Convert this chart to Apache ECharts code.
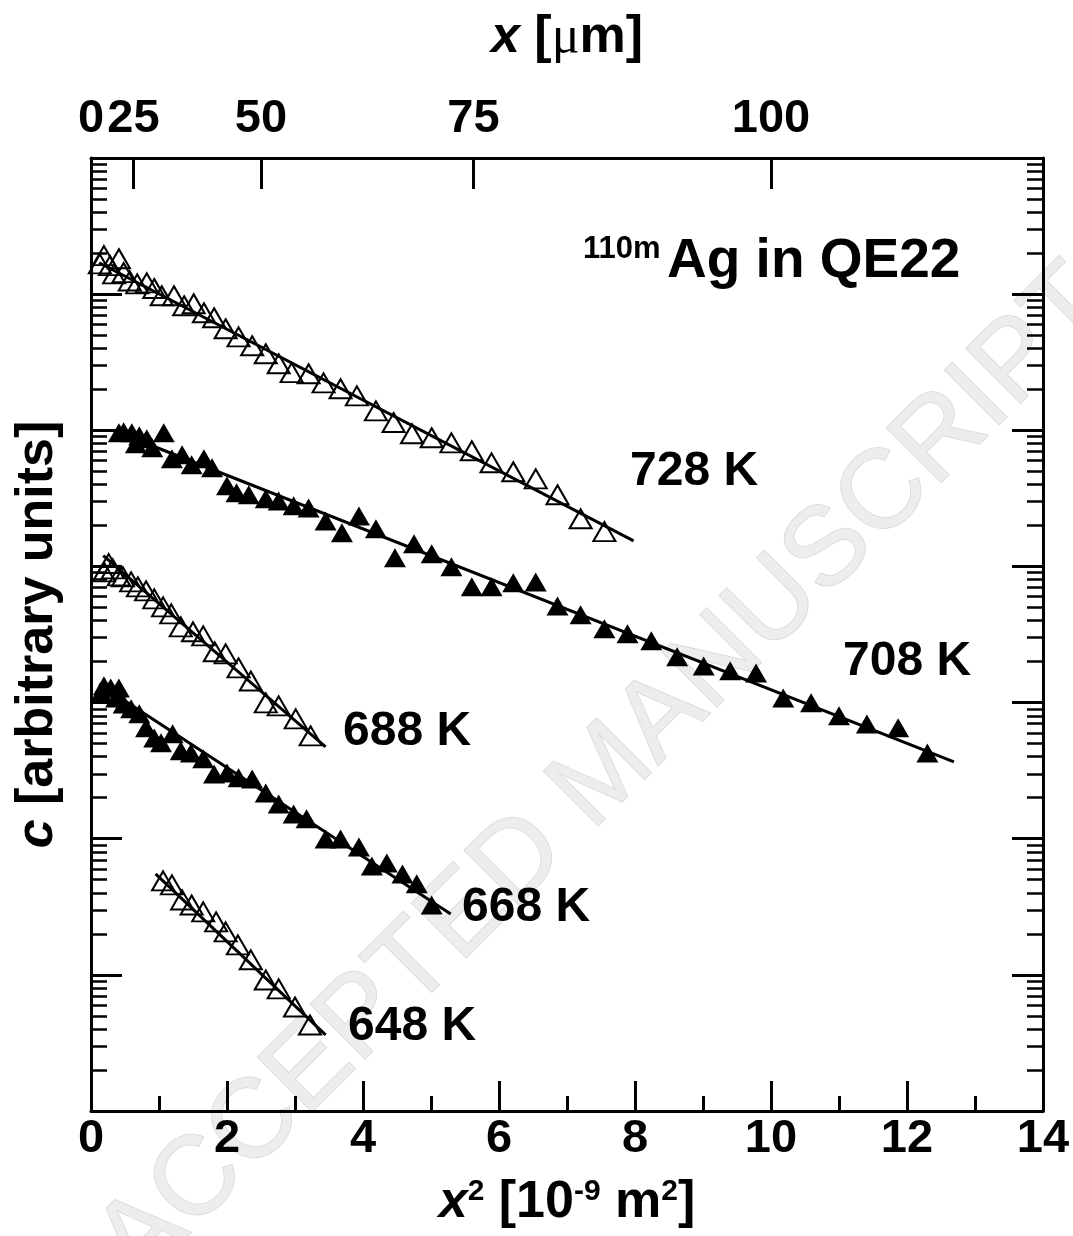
<!DOCTYPE html>
<html>
<head>
<meta charset="utf-8">
<title>110mAg in QE22</title>
<script src="https://cdn.jsdelivr.net/npm/echarts@6/dist/echarts.min.js"></script>
<style>
html, body { margin: 0; padding: 0; background: #fff; }
#main { width: 1073px; height: 1236px; }
</style>
</head>
<body>
<div id="main"></div>
<script>
// penetration profiles, x^2 in 1e-9 m^2, c in arbitrary units (log axis)
var x728 = [0.13, 0.19, 0.28, 0.34, 0.41, 0.48, 0.57, 0.68, 0.82, 0.93, 1.04, 1.22, 1.37, 1.51, 1.66, 1.81, 1.98, 2.17, 2.37, 2.57, 2.76, 2.95, 3.20, 3.42, 3.67, 3.91, 4.19, 4.45, 4.72, 5.01, 5.30, 5.60, 5.89, 6.21, 6.54, 6.86, 7.20, 7.55];
var c728 = [1.67e6, 1.92e6, 1.62e6, 1.41e6, 1.82e6, 1.44e6, 1.25e6, 1.19e6, 1.21e6, 1.10e6, 9.73e5, 9.73e5, 8.22e5, 8.50e5, 7.30e5, 6.71e5, 5.57e5, 4.86e5, 4.18e5, 3.65e5, 3.08e5, 2.65e5, 2.60e5, 2.23e5, 2.02e5, 1.79e5, 1.39e5, 1.14e5, 9.43e4, 8.81e4, 8.09e4, 7.07e4, 5.77e4, 4.96e4, 4.40e4, 3.36e4, 2.24e4, 1.80e4];

var x708 = [0.41, 0.48, 0.60, 0.66, 0.71, 0.82, 0.90, 1.07, 1.19, 1.34, 1.48, 1.66, 1.78, 2.00, 2.14, 2.32, 2.57, 2.76, 2.98, 3.20, 3.45, 3.69, 3.94, 4.19, 4.47, 4.75, 5.01, 5.30, 5.60, 5.89, 6.21, 6.54, 6.86, 7.20, 7.55, 7.89, 8.24, 8.62, 9.01, 9.40, 9.78, 10.18, 10.59, 11.00, 11.41, 11.87, 12.30];
var c708 = [9.59e4, 9.75e4, 9.59e4, 7.96e4, 9.11e4, 8.66e4, 7.44e4, 9.59e4, 6.18e4, 6.61e4, 5.58e4, 6.18e4, 5.30e4, 3.91e4, 3.47e4, 3.36e4, 3.14e4, 3.03e4, 2.79e4, 2.69e4, 2.16e4, 1.77e4, 2.35e4, 1.89e4, 1.16e4, 1.47e4, 1.24e4, 9.93e3, 7.08e3, 7.08e3, 7.58e3, 7.70e3, 5.13e3, 4.41e3, 3.48e3, 3.20e3, 2.84e3, 2.17e3, 1.86e3, 1.71e3, 1.65e3, 1.08e3, 995, 799, 697, 652, 427];

var x688 = [0.19, 0.26, 0.32, 0.41, 0.47, 0.59, 0.69, 0.81, 0.93, 1.06, 1.18, 1.32, 1.50, 1.65, 1.82, 1.98, 2.17, 2.35, 2.57, 2.76, 3.01, 3.23];
var c688 = [9.13e3, 1.05e4, 9.60e3, 8.53e3, 8.39e3, 7.70e3, 7.08e3, 6.62e3, 5.78e3, 5.05e3, 4.48e3, 3.60e3, 3.31e3, 3.09e3, 2.36e3, 2.28e3, 1.80e3, 1.44e3, 995, 946, 759, 569];

var x668 = [0.15, 0.19, 0.29, 0.37, 0.41, 0.48, 0.59, 0.71, 0.81, 0.93, 1.03, 1.20, 1.32, 1.47, 1.65, 1.81, 2.00, 2.17, 2.37, 2.57, 2.76, 2.98, 3.17, 3.45, 3.67, 3.94, 4.13, 4.35, 4.58, 4.79, 5.01];
var c668 = [1.18e3, 1.33e3, 1.28e3, 1.08e3, 1.28e3, 978, 899, 826, 652, 550, 506, 589, 442, 427, 386, 299, 304, 280, 275, 217, 180, 152, 140, 99.7, 99.7, 87.1, 63.1, 66.4, 55.1, 46.6, 32.6];

var x648 = [1.06, 1.19, 1.34, 1.48, 1.65, 1.84, 1.98, 2.16, 2.35, 2.57, 2.76, 3.00, 3.22];
var c648 = [49.0, 45.8, 35.5, 32.6, 29.0, 24.5, 20.7, 16.6, 12.9, 9.17, 7.88, 5.81, 4.28];

// fitted gaussian solutions (straight lines in log c vs x^2)
var fit728X = [0.12, 7.98], fit728C = [1.70e6, 1.54e4];
var fit708X = [0.34, 12.69], fit708C = [9.92e4, 367];
var fit688X = [0.18, 3.45], fit688C = [1.20e4, 473];
var fit668X = [0.12, 5.29], fit668C = [1.37e3, 28.0];
var fit648X = [0.95, 3.45], fit648C = [55.1, 3.62];

// top axis: depth x in micrometres
var topUm = [0, 25, 50, 75, 100];
var decades = [0, 1, 2, 3, 4, 5, 6, 7];

var font = '"Liberation Sans", Arial, Helvetica, sans-serif';

function zip(xs, ys) {
    var out = [];
    for (var i = 0; i < xs.length; i++) out.push([xs[i], ys[i]]);
    return out;
}

var topVals = topUm.map(function (u) { return u * u / 1000; });
var majorLog = decades.slice(1, 7);
var minorLog = [];
for (var d = 0; d < 7; d++) {
    for (var k = 2; k <= 9; k++) minorLog.push(d + Math.log10(k));
}

var black = '#000';
var tickLabel = { show: true, color: black, fontSize: 47, fontWeight: 'bold', fontFamily: font, showMinLabel: true, showMaxLabel: true, hideOverlap: false };
var titleStyle = {
    color: black, fontSize: 52, fontWeight: 'bold', fontFamily: font,
    rich: {
        it: { fontSize: 52, fontWeight: 'bold', fontStyle: 'italic', fontFamily: font, color: black },
        sup: { fontSize: 30, fontWeight: 'bold', fontFamily: font, color: black, verticalAlign: 'top' },
        mu: { fontSize: 52, fontWeight: 'normal', fontFamily: '"Liberation Serif", "DejaVu Serif", serif', color: black }
    }
};

function tickAxis(pos, vals, len, width, showLine) {
    return {
        type: 'value', position: pos, min: 0, max: 7,
        axisLine: { show: showLine, onZero: false, lineStyle: { color: black, width: 3 } },
        axisTick: { show: true, inside: true, length: len, customValues: vals, lineStyle: { color: black, width: width } },
        axisLabel: { show: false },
        splitLine: { show: false }
    };
}

var chart = echarts.init(document.getElementById('main'));

var option = {
    animation: false,
    backgroundColor: '#fff',
    textStyle: { fontFamily: font },
    grid: { left: 91, right: 30, top: 158, bottom: 125, outerBoundsMode: 'none' },
    xAxis: [{
        type: 'value', position: 'bottom', min: 0, max: 14, interval: 2,
        axisLine: { show: true, onZero: false, lineStyle: { color: black, width: 3 } },
        axisTick: { show: true, inside: true, length: 30, lineStyle: { color: black, width: 3 } },
        minorTick: { show: true, splitNumber: 2, length: 15, lineStyle: { color: black, width: 3 } },
        axisLabel: Object.assign({ margin: 5 }, tickLabel),
        splitLine: { show: false },
        name: '{it|x}{sup|2} [10{sup|-9} m{sup|2}]',
        nameLocation: 'middle', nameGap: 66,
        nameTextStyle: titleStyle
    }, {
        type: 'value', position: 'top', min: 0, max: 14,
        axisLine: { show: true, onZero: false, lineStyle: { color: black, width: 3 } },
        axisTick: { show: true, inside: true, length: 31, customValues: topVals.slice(1), lineStyle: { color: black, width: 3 } },
        axisLabel: Object.assign({
            margin: 15, customValues: topVals,
            formatter: function (v) { return Math.round(Math.sqrt(v * 1000)); }
        }, tickLabel),
        splitLine: { show: false },
        name: '{it|x} [{mu|\u03bc}m]',
        nameLocation: 'middle', nameGap: 94,
        nameTextStyle: titleStyle
    }],
    yAxis: [{
        type: 'log', logBase: 10, min: 1, max: 1e7, position: 'left',
        axisLine: { show: true, onZero: false, lineStyle: { color: black, width: 3 } },
        axisTick: { show: false },
        axisLabel: { show: false },
        splitLine: { show: false },
        name: '{it|c} [arbitrary units]',
        nameLocation: 'middle', nameGap: 27,
        nameTextStyle: titleStyle
    },
        tickAxis('left', majorLog, 31, 3, false),
        tickAxis('left', minorLog, 16, 2.5, false),
        tickAxis('right', majorLog, 31, 3, true),
        tickAxis('right', minorLog, 16, 2.5, false)
    ],
    graphic: [{
        type: 'text', x: 605, y: 775, rotation: Math.PI / 4, z: 0, silent: true,
        style: { text: 'ACCEPTED MANUSCRIPT', fontSize: 112, fontFamily: font, fill: '#ededed', stroke: '#d6d6d6', lineWidth: 1.5, align: 'center', verticalAlign: 'middle' }
    },
    { type: 'text', x: 630, y: 472, z: 10, style: { text: '728 K', fontSize: 48, fontWeight: 'bold', fontFamily: font, fill: black, align: 'left', verticalAlign: 'middle' } },
    { type: 'text', x: 843, y: 662, z: 10, style: { text: '708 K', fontSize: 48, fontWeight: 'bold', fontFamily: font, fill: black, align: 'left', verticalAlign: 'middle' } },
    { type: 'text', x: 343, y: 732, z: 10, style: { text: '688 K', fontSize: 48, fontWeight: 'bold', fontFamily: font, fill: black, align: 'left', verticalAlign: 'middle' } },
    { type: 'text', x: 462, y: 908, z: 10, style: { text: '668 K', fontSize: 48, fontWeight: 'bold', fontFamily: font, fill: black, align: 'left', verticalAlign: 'middle' } },
    { type: 'text', x: 348, y: 1027, z: 10, style: { text: '648 K', fontSize: 48, fontWeight: 'bold', fontFamily: font, fill: black, align: 'left', verticalAlign: 'middle' } },
    { type: 'text', x: 583, y: 249, z: 10, style: { text: '110m', fontSize: 31, fontWeight: 'bold', fontFamily: font, fill: black, align: 'left', verticalAlign: 'middle' } },
    { type: 'text', x: 667, y: 262, z: 10, style: { text: 'Ag in QE22', fontSize: 55, fontWeight: 'bold', fontFamily: font, fill: black, align: 'left', verticalAlign: 'middle' } }
    ],
    series: []
};

var open = { color: 'rgba(0,0,0,0)', borderColor: black, borderWidth: 2, opacity: 1 };
var filled = { color: black, borderColor: black, borderWidth: 0, opacity: 1 };
var sets = [
    ['728 K', x728, c728, fit728X, fit728C, open],
    ['708 K', x708, c708, fit708X, fit708C, filled],
    ['688 K', x688, c688, fit688X, fit688C, open],
    ['668 K', x668, c668, fit668X, fit668C, filled],
    ['648 K', x648, c648, fit648X, fit648C, open]
];
sets.forEach(function (s) {
    option.series.push({
        name: s[0] + ' fit', type: 'line', xAxisIndex: 0, yAxisIndex: 0,
        data: zip(s[3], s[4]), symbol: 'none', silent: true, z: 2,
        lineStyle: { color: black, width: 3 }
    });
    option.series.push({
        name: s[0], type: 'scatter', xAxisIndex: 0, yAxisIndex: 0,
        data: zip(s[1], s[2]), symbol: 'triangle', symbolSize: [22, 19], z: 3,
        itemStyle: s[5], emphasis: { disabled: true }
    });
});

chart.setOption(option);
</script>
</body>
</html>
